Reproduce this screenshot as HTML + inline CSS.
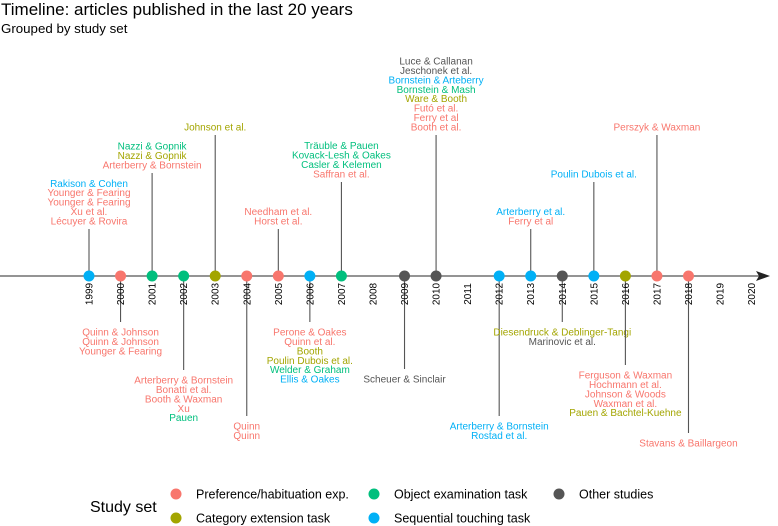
<!DOCTYPE html>
<html><head><meta charset="utf-8"><style>
body{margin:0;background:#fff;}
svg{display:block;font-family:"Liberation Sans",Arial,sans-serif;}
</style></head><body>
<svg id="chart" width="778" height="526" viewBox="0 0 778 526" xmlns="http://www.w3.org/2000/svg">
<text x="1" y="15" font-size="17" fill="#000">Timeline: articles published in the last 20 years</text>
<text x="1" y="33" font-size="13.3" fill="#000">Grouped by study set</text>
<line x1="0" y1="276" x2="762" y2="276" stroke="#555" stroke-width="1.2"/>
<path d="M770 276 L756 271 L759 276 L756 281 Z" fill="#222"/>
<g id="g"></g>
<text x="90" y="512" font-size="16" fill="#000">Study set</text>
</svg>
<script>
const tickYears = [1999,2000,2001,2002,2003,2004,2005,2006,2007,2008,2009,2010,2011,2012,2013,2014,2015,2016,2017,2018,2019,2020];
const eventYears = [1999,2000,2001,2002,2003,2004,2005,2006,2007,2009,2010,2012,2013,2014,2015,2016,2017,2018];
const eventSets = ["seq","pref","obj","obj","cat","pref","pref","seq","obj","other","other","seq","seq","other","seq","cat","pref","pref"];
const stemDir = [1,-1,1,-1,1,-1,1,-1,1,-1,1,-1,1,-1,1,-1,1,-1];
const stemLen = [47,46,103,94,141,140,47,46,94,93,141,140,47,46,94,89,141,157];
const labelText = [
 ["Rakison & Cohen","Younger & Fearing","Younger & Fearing","Xu et al.","Lécuyer & Rovira"],
 ["Quinn & Johnson","Quinn & Johnson","Younger & Fearing"],
 ["Nazzi & Gopnik","Nazzi & Gopnik","Arterberry & Bornstein"],
 ["Arterberry & Bornstein","Bonatti et al.","Booth & Waxman","Xu","Pauen"],
 ["Johnson et al."],
 ["Quinn","Quinn"],
 ["Needham et al.","Horst et al."],
 ["Perone & Oakes","Quinn et al.","Booth","Poulin Dubois et al.","Welder & Graham","Ellis & Oakes"],
 ["Träuble & Pauen","Kovack-Lesh & Oakes","Casler & Kelemen","Saffran et al."],
 ["Scheuer & Sinclair"],
 ["Luce & Callanan","Jeschonek et al.","Bornstein & Arteberry","Bornstein & Mash","Ware & Booth","Futó et al.","Ferry et al","Booth et al."],
 ["Arterberry & Bornstein","Rostad et al."],
 ["Arterberry et al.","Ferry et al"],
 ["Diesendruck & Deblinger-Tangi","Marinovic et al."],
 ["Poulin Dubois et al."],
 ["Ferguson & Waxman","Hochmann et al.","Johnson & Woods","Waxman et al.","Pauen & Bachtel-Kuehne"],
 ["Perszyk & Waxman"],
 ["Stavans & Baillargeon"]
];
const labelSets = [
 ["seq","pref","pref","pref","pref"],
 ["pref","pref","pref"],
 ["obj","cat","pref"],
 ["pref","pref","pref","pref","obj"],
 ["cat"],
 ["pref","pref"],
 ["pref","pref"],
 ["pref","pref","cat","cat","obj","seq"],
 ["obj","obj","obj","pref"],
 ["other"],
 ["other","other","seq","obj","cat","pref","pref","pref"],
 ["seq","seq"],
 ["seq","pref"],
 ["cat","other"],
 ["seq"],
 ["pref","pref","pref","pref","cat"],
 ["pref"],
 ["pref"]
];
const setKeys = ["pref","cat","obj","seq","other"];
const setNames = ["Preference/habituation exp.","Category extension task","Object examination task","Sequential touching task","Other studies"];
const setColors = {pref:"#F8766D",cat:"#A3A500",obj:"#00BF7D",seq:"#00B0F6",other:"#555555"};

const NS="http://www.w3.org/2000/svg";
const g=document.getElementById('g');
const svg=document.getElementById('chart');
const x0=89, x1=751.6, y0=276;
function xScale(y){return x0+(y-1999)*(x1-x0)/(2020-1999);}
function mk(t,a,parent){const e=document.createElementNS(NS,t);for(const k in a)e.setAttribute(k,a[k]);(parent||g).appendChild(e);return e;}

eventYears.forEach((yr,i)=>{
  const x=xScale(yr), d=stemDir[i], end=y0-d*stemLen[i];
  const s=mk('line',{x1:x,y1:y0,x2:x,y2:end,stroke:'#555','stroke-width':1.1});
  
  
  const lines=labelText[i], n=lines.length;
  lines.forEach((t,j)=>{
    const cy = d>0 ? end-8-(n-1-j)*9.43 : end+10+j*9.43;
    const te=mk('text',{x:x,y:cy+3.5,'text-anchor':'middle','font-size':'10',fill:setColors[labelSets[i][j]]});
    te.textContent=t;
    
    
  });
});
eventYears.forEach((yr,i)=>{
  const c=mk('circle',{cx:xScale(yr),cy:y0,r:5.5,fill:setColors[eventSets[i]]});
  
  
});
tickYears.forEach(yr=>{
  const x=xScale(yr);
  const t=mk('text',{x:0,y:0,transform:'translate('+(x+3.5)+',294) rotate(-90)','text-anchor':'middle','font-size':'10',fill:'#000'});
  t.textContent=yr;
  
  
});
const legX=[176,374,559];
setKeys.forEach((k,i)=>{
  const col=i>>1, row=i%2;
  const x=legX[col], y=494+row*24;
  const c=mk('circle',{cx:x,cy:y,r:5.5,fill:setColors[k]},svg);
  
  
  const t=mk('text',{x:x+20,y:y+4.5,'font-size':'12.5',fill:'#000'},svg);
  t.textContent=setNames[i];
  
  
});
</script>
</body></html>
